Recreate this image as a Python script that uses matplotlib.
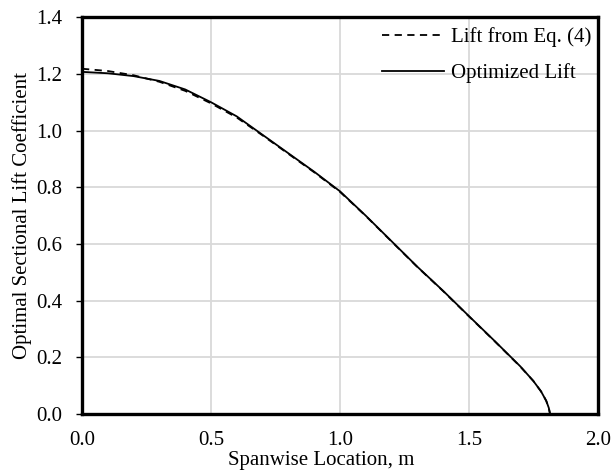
import matplotlib
matplotlib.use("Agg")
import matplotlib.pyplot as plt

# spanwise stations (m) and sectional lift coefficients
span_opt = [0.0, 0.1, 0.2, 0.3, 0.4, 0.5, 0.6, 0.7, 0.8, 0.9, 1.0, 1.1, 1.2,
            1.3, 1.4, 1.5, 1.6, 1.65, 1.7, 1.75, 1.78, 1.80, 1.81, 1.815]
cl_opt = [1.207, 1.202, 1.192, 1.175, 1.145, 1.100, 1.050, 0.985, 0.920, 0.855,
          0.786, 0.700, 0.610, 0.520, 0.435, 0.346, 0.258, 0.213, 0.168, 0.117,
          0.080, 0.047, 0.022, 0.0]

span_eq = [0.0, 0.1, 0.2, 0.3, 0.4, 0.5, 0.6, 0.7, 0.8, 0.9, 1.0, 1.1, 1.2,
           1.3, 1.4, 1.5, 1.6, 1.65, 1.7, 1.75, 1.78, 1.80, 1.81, 1.815]
cl_eq = [1.218, 1.210, 1.195, 1.172, 1.140, 1.096, 1.046, 0.983, 0.918, 0.853,
         0.784, 0.699, 0.609, 0.519, 0.434, 0.345, 0.257, 0.212, 0.167, 0.117,
         0.080, 0.047, 0.022, 0.0]

plt.rcParams['font.family'] = ['Liberation Serif', 'DejaVu Serif']

fig = plt.figure(figsize=(6.14, 4.76), dpi=100)
ax = fig.add_axes([0.1336, 0.130, 0.840, 0.834])

ax.plot(span_eq, cl_eq, color='black', linestyle=(0, (4, 3)), linewidth=1.3,
        label='Lift from Eq. (4)')
ax.plot(span_opt, cl_opt, color='black', linestyle='-', linewidth=1.3,
        label='Optimized Lift')

ax.set_xlim(0, 2.0)
ax.set_ylim(0, 1.4)
ax.set_xticks([0.0, 0.5, 1.0, 1.5, 2.0])
ax.set_yticks([0.0, 0.2, 0.4, 0.6, 0.8, 1.0, 1.2, 1.4])
ax.xaxis.set_major_formatter(plt.FormatStrFormatter('%.1f'))
ax.yaxis.set_major_formatter(plt.FormatStrFormatter('%.1f'))
ax.grid(True, color='#d9d9d9', linewidth=1.3)
ax.set_axisbelow(True)
for s in ax.spines.values():
    s.set_linewidth(2.4)
ax.tick_params(axis='y', direction='out', length=4, width=1, labelsize=15, pad=10)
ax.tick_params(axis='x', length=0, labelsize=15, pad=12)

ax.set_xlabel('Spanwise Location, m', fontsize=15)
ax.xaxis.set_label_coords(0.463, -0.093)
ax.set_ylabel('Optimal Sectional Lift Coefficient', fontsize=15)
ax.yaxis.set_label_coords(-0.097, 0.5)

ax.legend(loc='upper right', frameon=False, fontsize=15, handlelength=3.0,
          handletextpad=0.3, labelspacing=0.75, borderaxespad=0.0,
          bbox_to_anchor=(1.003, 0.995))

fig.savefig('out.png', dpi=100)
